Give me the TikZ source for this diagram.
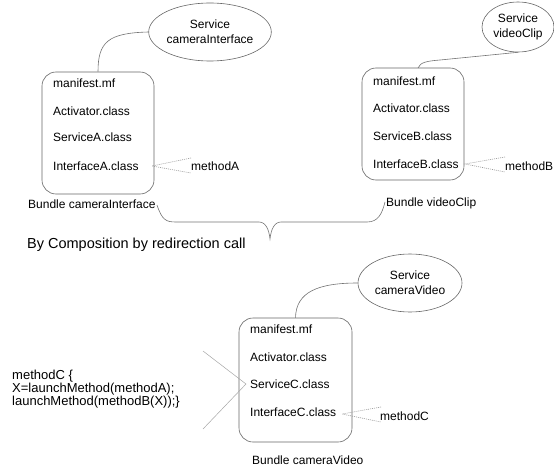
\documentclass[tikz,border=0pt]{standalone}
\usepackage{fontspec}
\setmainfont{Liberation Sans}
\usetikzlibrary{shapes.geometric}
\begin{document}
\begin{tikzpicture}[x=1pt,y=-1pt,
  conn/.style={draw=black!55, line width=0.6pt},
  dotline/.style={draw=black!40, line width=0.6pt, dash pattern=on 1pt off 1pt},
  svc/.style={ellipse, draw=black!60, line width=0.6pt, align=center, inner sep=0pt,
      font=\fontsize{12}{15}\selectfont},
  bundlebox/.style={rectangle, rounded corners=14pt, draw=black!60, line width=0.6pt, inner sep=0pt},
  txt/.style={anchor=base west, inner sep=0pt, font=\fontsize{12}{14}\selectfont},
  bigtxt/.style={anchor=base west, inner sep=0pt, font=\fontsize{14.5}{17}\selectfont},
  codetxt/.style={anchor=north west, inner sep=0pt, align=left, font=\fontsize{13}{12.8}\selectfont}]
\useasboundingbox (0,0) rectangle (554,468);

% ---------- Bundle A ----------
\node[svc, minimum width=106pt, minimum height=58pt] (ellA) at (210,32) {Service\\cameraInterface};
\node[bundlebox, minimum width=112pt, minimum height=122pt] (boxA) at (98,133) {};
\node[txt] (a1) at (53,88) {manifest.mf};
\node[txt] (a2) at (53,116) {Activator.class};
\node[txt] (a3) at (53,142) {ServiceA.class};
\node[txt] (a4) at (53,170) {InterfaceA.class};
\node[txt] (mA) at (191,171) {methodA};
\node[txt] (bA) at (28,208) {Bundle cameraInterface};
\coordinate (dA) at (152,166);
\coordinate (dA1) at (191,158);
\coordinate (dA2) at (191,173);
\draw[conn] (boxA.north) .. controls (98,42) and (108,33) .. (ellA.west);
\draw[dotline] (dA1) -- (dA) -- (dA2);

% ---------- Bundle B ----------
\node[svc, minimum width=72pt, minimum height=50pt] (ellB) at (518,27) {Service\\videoClip};
\node[bundlebox, minimum width=102pt, minimum height=112pt] (boxB) at (413,124) {};
\node[txt] (b1) at (373,86) {manifest.mf};
\node[txt] (b2) at (373,113) {Activator.class};
\node[txt] (b3) at (373,141) {ServiceB.class};
\node[txt] (b4) at (373,168) {InterfaceB.class};
\node[txt] (mB) at (505,171) {methodB};
\node[txt] (bB) at (386,206) {Bundle videoClip};
\coordinate (topB) at (418,68);
\coordinate (midB) at (440,60);
\coordinate (dB) at (465,164);
\coordinate (dB1) at (505,157);
\coordinate (dB2) at (505,172);
\draw[conn] (topB) .. controls (420,62) and (428,61) .. (midB) -- (ellB.south);
\draw[dotline] (dB1) -- (dB) -- (dB2);

% ---------- brace ----------
\coordinate (brL) at (157,205);
\coordinate (tip) at (270,239);
\coordinate (brR) at (385,202);
\draw[conn] (brL) .. controls (162,220) and (166,222) .. (176,222) -- (259,222)
  .. controls (266,222) and (269,230) .. (tip)
  .. controls (271,230) and (274,222) .. (281,222) -- (367,222)
  .. controls (378,222) and (382,214) .. (brR);
\node[bigtxt] (comp) at (27,248) {By Composition by redirection call};

% ---------- Bundle C ----------
\node[svc, minimum width=104pt, minimum height=58pt] (ellC) at (410,283) {Service\\cameraVideo};
\node[bundlebox, minimum width=113pt, minimum height=124pt] (boxC) at (295.5,380) {};
\node[txt] (c1) at (250,333) {manifest.mf};
\node[txt] (c2) at (250,361) {Activator.class};
\node[txt] (c3) at (250,388) {ServiceC.class};
\node[txt] (c4) at (250,416) {InterfaceC.class};
\node[txt] (mC) at (380,420) {methodC};
\node[txt] (bC) at (252,464) {Bundle cameraVideo};
\coordinate (dC) at (342,414);
\coordinate (dC1) at (381,407);
\coordinate (dC2) at (381,422);
\draw[conn] (boxC.north) .. controls (296,292) and (318,283) .. (ellC.west);
\draw[dotline] (dC1) -- (dC) -- (dC2);

% ---------- code ----------
\node[codetxt] (code) at (12,370) {methodC \{\\X=launchMethod(methodA);\\launchMethod(methodB(X));\}};
\coordinate (s1) at (203,351);
\coordinate (sC) at (246,384);
\coordinate (s2) at (203,429);
\draw[draw=black!35, line width=0.5pt] (s1) -- (sC) -- (s2);
\end{tikzpicture}
\end{document}
